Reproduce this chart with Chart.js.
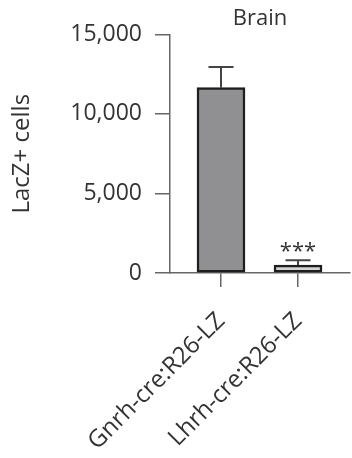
<!DOCTYPE html>
<html>
<head>
<meta charset="utf-8">
<script src="https://cdn.jsdelivr.net/npm/chart.js@4/dist/chart.umd.min.js"></script>
<style>
  html, body { margin: 0; padding: 0; background: #fff; }
  #wrap { width: 352px; height: 458px; }
</style>
</head>
<body>
<div id="wrap"><canvas id="myChart" width="352" height="458"></canvas></div>
<script>
// data
const categories = ["Gnrh-cre:R26-LZ", "Lhrh-cre:R26-LZ"];
const cellCounts = [11650, 500];
const cellErrors = [1300, 300];
const significance = ["", "***"];
const yTicks = [0, 5000, 10000, 15000];

const axisColor = "#666";
const textColor = "#333";

// upper error bars + stars
const errorBars = {
    id: "errorBars",
    afterDatasetsDraw(chart) {
        const { ctx, scales } = chart;
        const x = scales.x, y = scales.y;
        ctx.save();
        ctx.strokeStyle = "#444";
        ctx.lineWidth = 2;
        cellCounts.forEach((v, i) => {
            const px = x.getPixelForValue(i);
            const top = y.getPixelForValue(v + cellErrors[i]);
            const base = y.getPixelForValue(v);
            ctx.beginPath();
            ctx.moveTo(px, base);
            ctx.lineTo(px, top);
            ctx.moveTo(px - 12.5, top);
            ctx.lineTo(px + 12.5, top);
            ctx.stroke();
            if (significance[i]) {
                ctx.fillStyle = textColor;
                ctx.font = "22px 'Open Sans'";
                ctx.textAlign = "center";
                ctx.textBaseline = "bottom";
                ctx.fillText(significance[i], px, top + 2);
            }
        });
        ctx.restore();
    },
};

new Chart(document.getElementById("myChart"), {
    type: "bar",
    data: {
        datasets: [
            {
                data: cellCounts.map((v, i) => ({ x: i, y: v })),
                backgroundColor: ["#909092", "#d3d3d3"],
                borderColor: "#1e1e1e",
                borderWidth: 2.5,
                borderSkipped: false,
                barThickness: 48,
            },
        ],
    },
    options: {
        responsive: false,
        animation: false,
        layout: { padding: { top: 0, right: 2, bottom: 0, left: 0 } },
        plugins: {
            legend: { display: false },
            tooltip: { enabled: false },
            title: {
                display: true,
                text: "Brain",
                fullSize: false,
                color: textColor,
                font: { family: "'Open Sans'", size: 22, weight: "normal" },
                padding: { top: 6, bottom: 2 },
            },
        },
        scales: {
            x: {
                type: "linear",
                offset: false,
                min: -0.6623,
                max: 1.675,
                afterBuildTicks(scale) {
                    scale.ticks = categories.map((c, i) => ({ value: i }));
                },
                afterFit(scale) {
                    scale.height = 185;
                },
                grid: {
                    offset: false,
                    drawOnChartArea: false,
                    drawTicks: true,
                    tickLength: 14,
                    color: axisColor,
                    lineWidth: 1.5,
                },
                border: { display: true, color: axisColor, width: 1.5 },
                ticks: {
                    autoSkip: false,
                    minRotation: 45,
                    maxRotation: 45,
                    padding: 20,
                    color: textColor,
                    font: { family: "'Open Sans'", size: 24 },
                    callback: (value) => categories[value],
                },
            },
            y: {
                min: 0,
                max: 15000,
                afterBuildTicks(scale) {
                    scale.ticks = yTicks.map((v) => ({ value: v }));
                },
                afterFit(scale) {
                    scale.width = 170;
                },
                grid: {
                    drawOnChartArea: false,
                    drawTicks: true,
                    tickLength: 15,
                    color: axisColor,
                    lineWidth: 1.5,
                },
                border: { display: true, color: axisColor, width: 1.5 },
                ticks: {
                    padding: 13,
                    color: textColor,
                    font: { family: "'Open Sans'", size: 23 },
                    callback: (value) => value.toLocaleString("en-US"),
                },
                title: {
                    display: true,
                    text: "LacZ+ cells",
                    color: textColor,
                    font: { family: "'Open Sans'", size: 24 },
                    padding: { top: 8, bottom: 0 },
                },
            },
        },
    },
    plugins: [errorBars],
});
</script>
</body>
</html>
